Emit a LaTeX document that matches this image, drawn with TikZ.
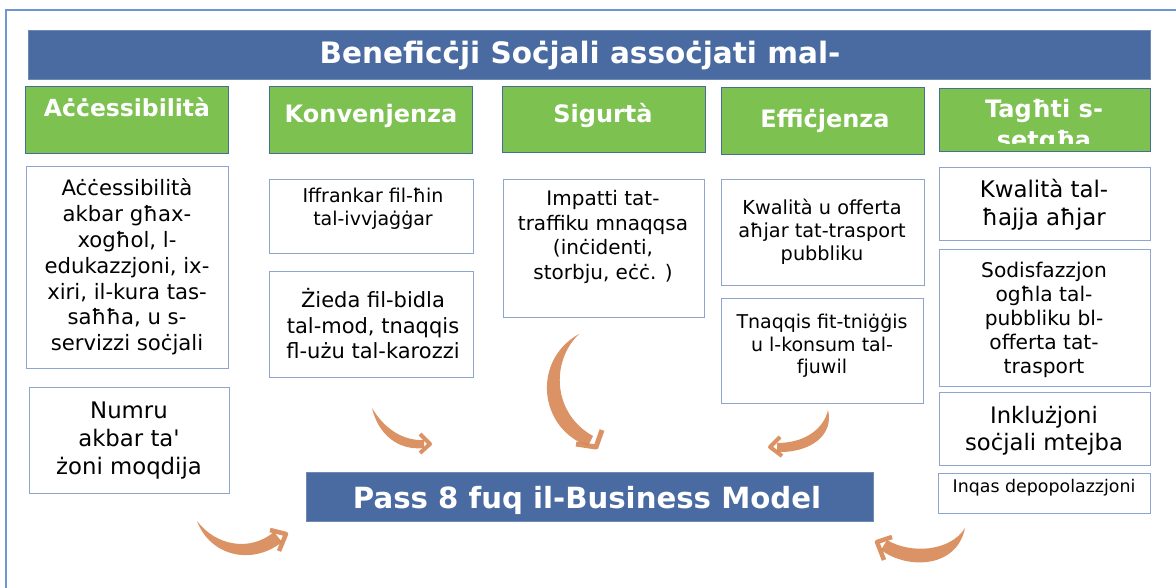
\documentclass[tikz,border=0pt]{standalone}
\usepackage{fontspec}
\setmainfont{DejaVu Sans}
\definecolor{tblue}{RGB}{74,107,161}
\definecolor{hgreen}{RGB}{125,193,81}
\definecolor{gline}{RGB}{70,110,150}
\definecolor{boxline}{RGB}{142,166,206}
\definecolor{arrowc}{RGB}{216,137,87}
\definecolor{framec}{RGB}{110,150,210}
\tikzset{
  wbox/.style={draw=boxline, line width=1.1pt, fill=white, anchor=north west, inner sep=0pt},
  gbox/.style={draw=gline, line width=0.9pt, fill=hgreen, anchor=north west, inner sep=0pt},
  bbar/.style={fill=tblue, draw=tblue!80!white, line width=0.6pt, anchor=north west, inner sep=0pt},
  btxt/.style={align=center, text=black, inner sep=0pt},
  htxt/.style={align=center, text=white, inner sep=0pt, anchor=base},
  brush/.style={fill=arrowc, fill opacity=0.92},
  brushhead/.style={draw=arrowc, draw opacity=0.92, line width=4.5pt, line join=round, line cap=butt},
}
\newcommand{\fs}[2]{\fontsize{#1}{#2}\selectfont}
\begin{document}
\begin{tikzpicture}[x=1pt,y=-1pt]
\useasboundingbox (0,0) rectangle (1176,588);
\fill[white] (0,0) rectangle (1176,588);
% outer frame
\draw[framec, line width=1.4pt] (6,588) -- (6,10) -- (1176,10);

% title bar
\node[bbar, minimum width=1122pt, minimum height=49pt] (tbar) at (28,30) {};
\node[htxt, font=\fs{29.5}{34}\bfseries] (ttl) at (580,64) {Beneficċji Soċjali assoċjati mal-};

% green headers
\node[gbox, minimum width=203pt, minimum height=67pt] (g1) at (25,86) {};
\node[htxt, font=\fs{23.5}{28}\bfseries] (g1t) at (127,117) {Aċċessibilità};
\node[gbox, minimum width=203pt, minimum height=67pt] (g2) at (269,86) {};
\node[htxt, font=\fs{24}{28}\bfseries] (g2t) at (371,123) {Konvenjenza};
\node[gbox, minimum width=203pt, minimum height=66pt] (g3) at (502,86) {};
\node[htxt, font=\fs{24}{28}\bfseries] (g3t) at (603,123) {Sigurtà};
\node[gbox, minimum width=203pt, minimum height=67pt] (g4) at (721,87) {};
\node[htxt, font=\fs{24}{28}\bfseries] (g4t) at (825,128) {Effiċjenza};
\node[gbox, minimum width=211pt, minimum height=63pt] (g5) at (939,88) {};
\begin{scope}
\clip (939,88) rectangle (1150,144);
\node[htxt, font=\fs{24}{31}\bfseries] (g5t) at (1044,149) {Tagħti s-\\setgħa};
\end{scope}

% white boxes
\node[wbox, minimum width=202pt, minimum height=202pt] (w1) at (26,166) {};
\node[btxt, font=\fs{21.2}{25.8}] (w1t) at (127,267) {Aċċessibilità\\akbar għax-\\xogħol, l-\\edukazzjoni, ix-\\xiri, il-kura tas-\\saħħa, u s-\\servizzi soċjali};

\node[wbox, minimum width=200pt, minimum height=106pt] (w11) at (29,387) {};
\node[btxt, font=\fs{22.8}{28}] (w11t) at (129,441) {Numru\\akbar ta\textquotesingle\\żoni moqdija};

\node[wbox, minimum width=204pt, minimum height=74pt] (w2) at (269,179) {};
\node[btxt, font=\fs{19}{22.5}] (w2t) at (373,209) {Iffrankar fil-ħin\\tal-ivvjaġġar};

\node[wbox, minimum width=204pt, minimum height=106pt] (w3) at (269,271) {};
\node[btxt, font=\fs{21}{25.5}] (w3t) at (373,324) {Żieda fil-bidla\\tal-mod, tnaqqis\\fl-użu tal-karozzi};

\node[wbox, minimum width=201pt, minimum height=138pt] (w4) at (503,179) {};
\node[btxt, font=\fs{20}{24.7}] (w4t) at (603,237) {Impatti tat-\\traffiku mnaqqsa\\(inċidenti,\\storbju, eċċ. )};

\node[wbox, minimum width=203pt, minimum height=106pt] (w5) at (721,179) {};
\node[btxt, font=\fs{19.3}{23}] (w5t) at (822,232) {Kwalità u offerta\\aħjar tat-trasport\\pubbliku};

\node[wbox, minimum width=202pt, minimum height=105pt] (w6) at (721,298) {};
\node[btxt, font=\fs{19}{22.5}] (w6t) at (822,346) {Tnaqqis fit-tniġġis\\u l-konsum tal-\\fjuwil};

\node[wbox, minimum width=211pt, minimum height=73pt] (w7) at (939,167) {};
\node[btxt, font=\fs{22.9}{28}] (w7t) at (1044,205) {Kwalità tal-\\ħajja aħjar};

\node[wbox, minimum width=211pt, minimum height=137pt] (w8) at (939,249) {};
\node[btxt, font=\fs{20.2}{24}] (w8t) at (1044,320) {Sodisfazzjon\\ogħla tal-\\pubbliku bl-\\offerta tat-\\trasport};

\node[wbox, minimum width=211pt, minimum height=73pt] (w9) at (939,392) {};
\node[btxt, font=\fs{22.7}{27}] (w9t) at (1044,431) {Inklużjoni\\soċjali mtejba};

\node[wbox, minimum width=212pt, minimum height=40pt] (w10) at (938,473) {};
\node[btxt, font=\fs{17.4}{20}, anchor=base] (w10t) at (1044,492) {Inqas depopolazzjoni};

% Pass 8 bar
\node[bbar, minimum width=567pt, minimum height=49pt] (pbar) at (306,472) {};
\node[htxt, font=\fs{29.2}{34}\bfseries] (pt) at (587,508) {Pass 8 fuq il-Business Model};

% brush arrows
% A1 (bottom left)
\fill[brush] (197,521) .. controls (210,556) and (252,566) .. (282,542)
  -- (274,532) .. controls (250,552) and (216,546) .. (197,521) -- cycle;
\draw[brushhead] (270,530) -- (286,534) -- (279,551);
% A2
\fill[brush] (372,408) .. controls (378,434) and (398,451) .. (424,448)
  -- (424,440) .. controls (402,441) and (384,428) .. (372,408) -- cycle;
\draw[brushhead, line width=4pt] (420,434) -- (430,444) -- (420,453);
% A3 (big, centre)
\fill[brush] (579,334) .. controls (532,360) and (538,428) .. (588,446)
  -- (593,436) .. controls (553,414) and (550,362) .. (579,334) -- cycle;
\draw[brushhead, line width=5pt] (602,430) -- (596,447) -- (576,444);
% A4
\fill[brush] (828,410) .. controls (834,434) and (812,453) .. (777,452)
  -- (777,443) .. controls (806,443) and (824,428) .. (828,410) -- cycle;
\draw[brushhead, line width=4pt] (780,437) -- (770,447) -- (782,456);
% A5 (bottom right)
\fill[brush] (965,528) .. controls (957,568) and (908,570) .. (881,550)
  -- (887,540) .. controls (910,554) and (950,552) .. (965,528) -- cycle;
\draw[brushhead] (892,537) -- (877,542) -- (884,560);
\end{tikzpicture}
\end{document}
